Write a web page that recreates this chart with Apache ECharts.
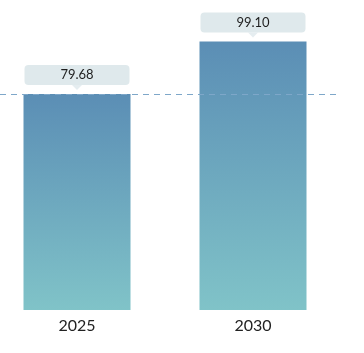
<!DOCTYPE html>
<html>
<head>
<meta charset="utf-8">
<style>
  html, body { margin: 0; padding: 0; background: #fff; overflow: hidden; }
  #wrap { position: relative; width: 364px; height: 353px; overflow: hidden; }
  #chart { position: absolute; left: -11px; top: 0; width: 375px; height: 353px; }
</style>
<script src="https://cdn.jsdelivr.net/npm/echarts@6/dist/echarts.min.js"></script>
</head>
<body>
<div id="wrap"><div id="chart"></div></div>
<script>
const years = ['2025', '2030']
const values = [79.68, 99.1]
const refLine = 79.68

const chart = echarts.init(document.getElementById('chart'))

chart.setOption({
  animation: false,
  backgroundColor: '#fff',
  grid: {
    left: 0,
    right: 23,
    top: 39,
    bottom: 43,
    containLabel: false,
  },
  xAxis: {
    type: 'category',
    data: years,
    axisLine: { show: false },
    axisTick: { show: false },
    axisLabel: {
      color: '#222',
      fontSize: 16,
      fontFamily: 'Lato, "Open Sans", sans-serif',
      margin: 8,
    },
  },
  yAxis: {
    type: 'value',
    min: 0,
    max: 100,
    show: false,
    splitLine: { show: false },
  },
  series: [
    {
      type: 'bar',
      data: values,
      barWidth: 107,
      itemStyle: {
        color: new echarts.graphic.LinearGradient(0, 0, 0, 1, [
          { offset: 0, color: '#5b8eb5' },
          { offset: 1, color: '#80c3c8' },
        ]),
      },
      label: {
        show: true,
        position: 'top',
        distance: 9,
        formatter: (p) => p.value.toFixed(2),
        color: '#1e1e1e',
        fontSize: 13,
        fontFamily: 'Lato, "Open Sans", sans-serif',
        backgroundColor: '#dfe9ec',
        borderRadius: 4,
        width: 105,
        align: 'center',
        lineHeight: 14,
        padding: [3, 0],
      },
      markLine: {
        silent: true,
        symbol: 'none',
        label: { show: false },
        lineStyle: {
          color: '#7ea7c9',
          type: [6, 5],
          width: 1,
        },
        data: [{ yAxis: refLine }],
      },
    },
    {
      type: 'scatter',
      data: values,
      silent: true,
      symbol: 'triangle',
      symbolRotate: 180,
      symbolSize: [10, 5],
      symbolOffset: [0, -6.5],
      itemStyle: { color: '#dfe9ec' },
      z: 3,
    },
  ],
})
</script>
</body>
</html>
